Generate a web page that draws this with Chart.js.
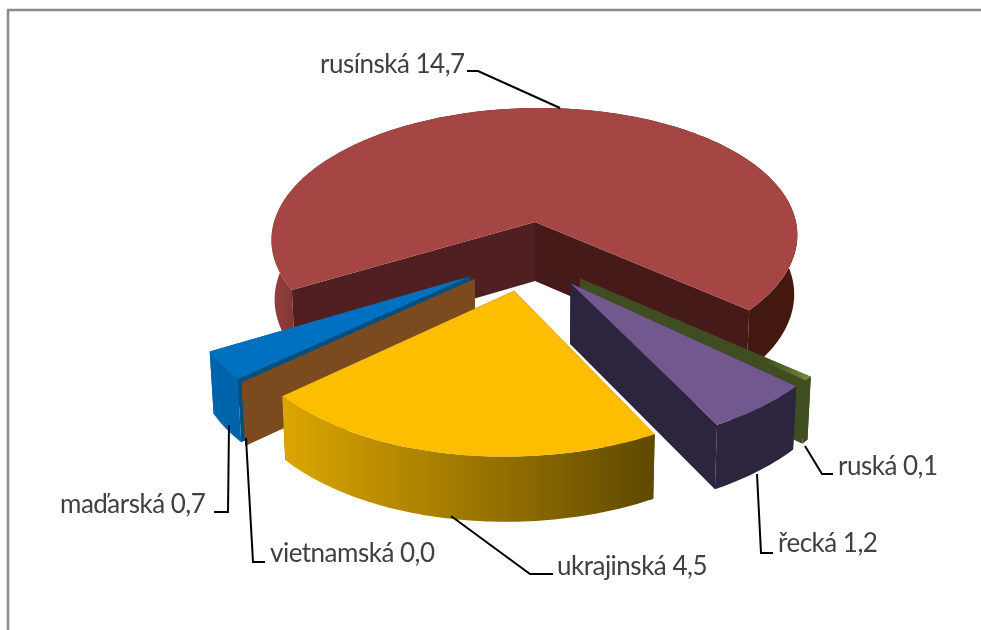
<!DOCTYPE html>
<html><head><meta charset="utf-8">
<style>html,body{margin:0;padding:0;background:#fff}canvas{display:block}</style>
<script src="https://cdn.jsdelivr.net/npm/chart.js@4"></script>
</head><body><canvas id="c" width="981" height="630"></canvas>
<script>
const categories = ['rusínská','ruská','řecká','ukrajinská','vietnamská','maďarská'];
const values = [14.7,0.1,1.2,4.5,0.0,0.7];
const valueLabels = ['14,7','0,1','1,2','4,5','0,0','0,7'];
const topColors = ['#A64644','#6E8C37','#71588F','#FDBD00','#7B4A1F','#0070C0'];
const wallLeft = ['#97403D','#3F4D20','#2D243D','#DCA600','#7B4A1F','#0064AC'];
const wallRight = ['#43190F','#3F4D20','#2D243D','#5F4900','#7B4A1F','#0064AC'];
const faceColors = [['#501F21','#451A18'],['#3F4D20','#3F4D20'],['#2D243D','#2D243D'],['#6b5000','#6b5000'],['#7B4A1F','#7B4A1F'],['#00507F','#00507F']];
const labelBoxes = [[320,73],[838,475],[778,552],[557,575],[270,562],[60,513]];
const leaders = [
 [[467,71],[478,71],[560,108]],
 [[805,446],[822,474],[833,474]],
 [[757,474],[761,553],[773,553]],
 [[451,516],[530,574],[553,574]],
 [[246,438],[253,562],[265,562]],
 [[229,425],[228,512],[214,512]]
];
const view = {cx:535,cy:222,k:261,k2:127.7,p:0.12,H:59,tilt:0.012,shear:5};
function project(u,v,down){
  const w=1-view.p*v;
  let X=(view.k*u-view.shear*v)/w;
  const Y=view.cy+view.k2*v/w+(down?view.H/Math.sqrt(w):0);
  if(down) X*=1-view.tilt;
  return [view.cx+X,Y];
}
const pie3d={
 id:'pie3d',
 beforeDatasetsDraw(chart){
  const ctx=chart.ctx, arcs=chart.getDatasetMeta(0).data;
  ctx.save();
  ctx.strokeStyle='#8a8a8a';ctx.lineWidth=2.5;
  ctx.beginPath();ctx.moveTo(8,630);ctx.lineTo(8,10);ctx.lineTo(981,10);ctx.stroke();
  const R=arcs[0].outerRadius;
  const mid=a=>(a.startAngle+a.endAngle)/2;
  const e=a=>a.options.offset/R;
  const cu=-e(arcs[0])*Math.cos(mid(arcs[0])), cv=-e(arcs[0])*Math.sin(mid(arcs[0]));
  const order=arcs.map((a,i)=>i).sort((i,j)=>Math.sin(mid(arcs[i]))-Math.sin(mid(arcs[j])));
  const poly=(pts,fill)=>{ctx.beginPath();pts.forEach((p,n)=>n?ctx.lineTo(p[0],p[1]):ctx.moveTo(p[0],p[1]));ctx.closePath();ctx.fillStyle=fill;ctx.fill();};
  for(const i of order){
   const a=arcs[i], m=mid(a), sweep=a.endAngle-a.startAngle;
   const ou=cu+e(a)*Math.cos(m), ov=cv+e(a)*Math.sin(m);
   const n=Math.max(1,Math.ceil(sweep/0.02));
   const rim=d=>{const r=[];for(let t=0;t<=n;t++){const th=a.startAngle+sweep*t/n;r.push(project(ou+Math.cos(th),ov+Math.sin(th),d));}return r;};
   const tops=rim(false), bots=rim(true);
   const apexT=project(ou,ov,false), apexB=project(ou,ov,true);
   const radial=()=>{
    poly([apexT,tops[tops.length-1],bots[bots.length-1],apexB],faceColors[i][1]);
    poly([apexT,tops[0],bots[0],apexB],faceColors[i][0]);
   };
   const outer=()=>{
    if(sweep<=0) return;
    const xs=tops.map(p=>p[0]);
    const g=ctx.createLinearGradient(Math.min(...xs),0,Math.max(...xs),0);
    g.addColorStop(0,wallLeft[i]);
    if(i===0){g.addColorStop(0.06,'#7a3230');g.addColorStop(0.3,'#43190F');}
    g.addColorStop(1,wallRight[i]);
    poly(tops.concat(bots.slice().reverse()),g);
   };
   if(sweep>Math.PI){outer();radial();}else{radial();outer();}
   if(sweep>0){
    let fill=topColors[i];
    if(i===1){
     const g=ctx.createLinearGradient(apexT[0],0,tops[0][0],0);
     g.addColorStop(0,'#3F4D20');g.addColorStop(0.8,'#3F4D20');g.addColorStop(1,topColors[i]);
     fill=g;
    }
    poly([apexT].concat(tops),fill);
   }
  }
  ctx.strokeStyle='#000';ctx.lineWidth=2;ctx.lineJoin='miter';
  leaders.forEach(l=>{ctx.beginPath();l.forEach((p,n)=>n?ctx.lineTo(p[0],p[1]):ctx.moveTo(p[0],p[1]));ctx.stroke();});
  ctx.fillStyle='#404040';ctx.font='26px Lato';ctx.textBaseline='alphabetic';ctx.textAlign='left';
  ctx.letterSpacing='-0.5px';
  categories.forEach((c,i)=>ctx.fillText(c+' '+valueLabels[i],labelBoxes[i][0],labelBoxes[i][1]));
  ctx.restore();
  return false;
 }
};
new Chart(document.getElementById('c'),{
 type:'pie',
 data:{labels:categories,datasets:[{data:values,backgroundColor:topColors,borderWidth:0,offset:51}]},
 options:{responsive:false,animation:false,rotation:240,radius:200,
  plugins:{legend:{display:false},tooltip:{enabled:false}}},
 plugins:[pie3d]
});
</script></body></html>
